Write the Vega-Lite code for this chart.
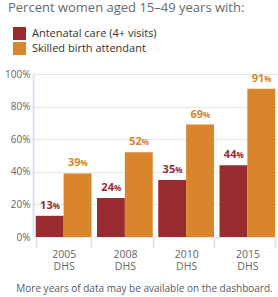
{
  "$schema": "https://vega.github.io/schema/vega-lite/v6.json",
  "width": 245,
  "height": 163,
  "autosize": {"type": "none"},
  "padding": {"left": 33, "top": 74, "right": 0, "bottom": 60},
  "background": "white",
  "config": {"font": "Open Sans", "view": {"stroke": null}},
  "title": {
    "text": "Percent women aged 15–49 years with:",
    "anchor": "start",
    "frame": "group",
    "orient": "top",
    "fontSize": 13,
    "fontWeight": "normal",
    "color": "#666a70",
    "dx": -25,
    "offset": 12
  },
  "data": {
    "values": [
      {"survey": "2005 DHS", "indicator": "Antenatal care (4+ visits)", "value": 13},
      {"survey": "2005 DHS", "indicator": "Skilled birth attendant", "value": 39},
      {"survey": "2008 DHS", "indicator": "Antenatal care (4+ visits)", "value": 24},
      {"survey": "2008 DHS", "indicator": "Skilled birth attendant", "value": 52},
      {"survey": "2010 DHS", "indicator": "Antenatal care (4+ visits)", "value": 35},
      {"survey": "2010 DHS", "indicator": "Skilled birth attendant", "value": 69},
      {"survey": "2015 DHS", "indicator": "Antenatal care (4+ visits)", "value": 44},
      {"survey": "2015 DHS", "indicator": "Skilled birth attendant", "value": 91}
    ]
  },
  "encoding": {
    "x": {
      "field": "survey",
      "type": "nominal",
      "scale": {"paddingInner": 0.09, "paddingOuter": 0.045},
      "axis": {
        "title": "More years of data may be available on the dashboard.",
        "titleFontSize": 10,
        "titleFontWeight": "normal",
        "titleColor": "#555a60",
        "titlePadding": 12,
        "titleX": 111,
        "labelAngle": 0,
        "labelExpr": "split(datum.label, ' ')",
        "labelFontSize": 10.5,
        "labelColor": "#666",
        "labelPadding": 2,
        "labelBaseline": "top",
        "labelLineHeight": 12,
        "tickBand": "extent",
        "tickColor": "#dde3f0",
        "tickWidth": 2,
        "tickSize": 10,
        "domain": false
      }
    },
    "xOffset": {"field": "indicator", "type": "nominal", "sort": ["Antenatal care (4+ visits)", "Skilled birth attendant"]},
    "y": {
      "field": "value",
      "type": "quantitative",
      "scale": {"domain": [0, 100]},
      "axis": {
        "title": null,
        "values": [0, 20, 40, 60, 80, 100],
        "labelExpr": "datum.value + '%'",
        "labelFontSize": 10,
        "labelColor": "#666",
        "labelPadding": 3,
        "ticks": false,
        "domainColor": "#dde3f0",
        "domainWidth": 2,
        "gridColor": "#e6e6e6",
        "gridWidth": 1
      }
    },
    "color": {
      "field": "indicator",
      "type": "nominal",
      "scale": {
        "domain": ["Antenatal care (4+ visits)", "Skilled birth attendant"],
        "range": ["#992a30", "#d9852b"]
      },
      "legend": {
        "title": null,
        "orient": "none",
        "legendX": -20,
        "legendY": -47,
        "symbolType": "square",
        "symbolSize": 169,
        "symbolStrokeWidth": 0,
        "symbolOpacity": 1,
        "labelFontSize": 11,
        "labelColor": "#333",
        "labelOffset": 6,
        "rowPadding": 2
      }
    }
  },
  "layer": [
    {"mark": {"type": "bar", "opacity": 1}},
    {
      "mark": {"type": "text", "align": "right", "baseline": "bottom", "dx": 3, "dy": -5, "fontWeight": "bold", "fontSize": 11},
      "encoding": {"text": {"field": "value", "type": "quantitative"}}
    },
    {
      "mark": {"type": "text", "align": "left", "baseline": "bottom", "dx": 3, "dy": -5, "fontWeight": "bold", "fontSize": 8, "text": "%"},
      "encoding": {}
    }
  ]
}
